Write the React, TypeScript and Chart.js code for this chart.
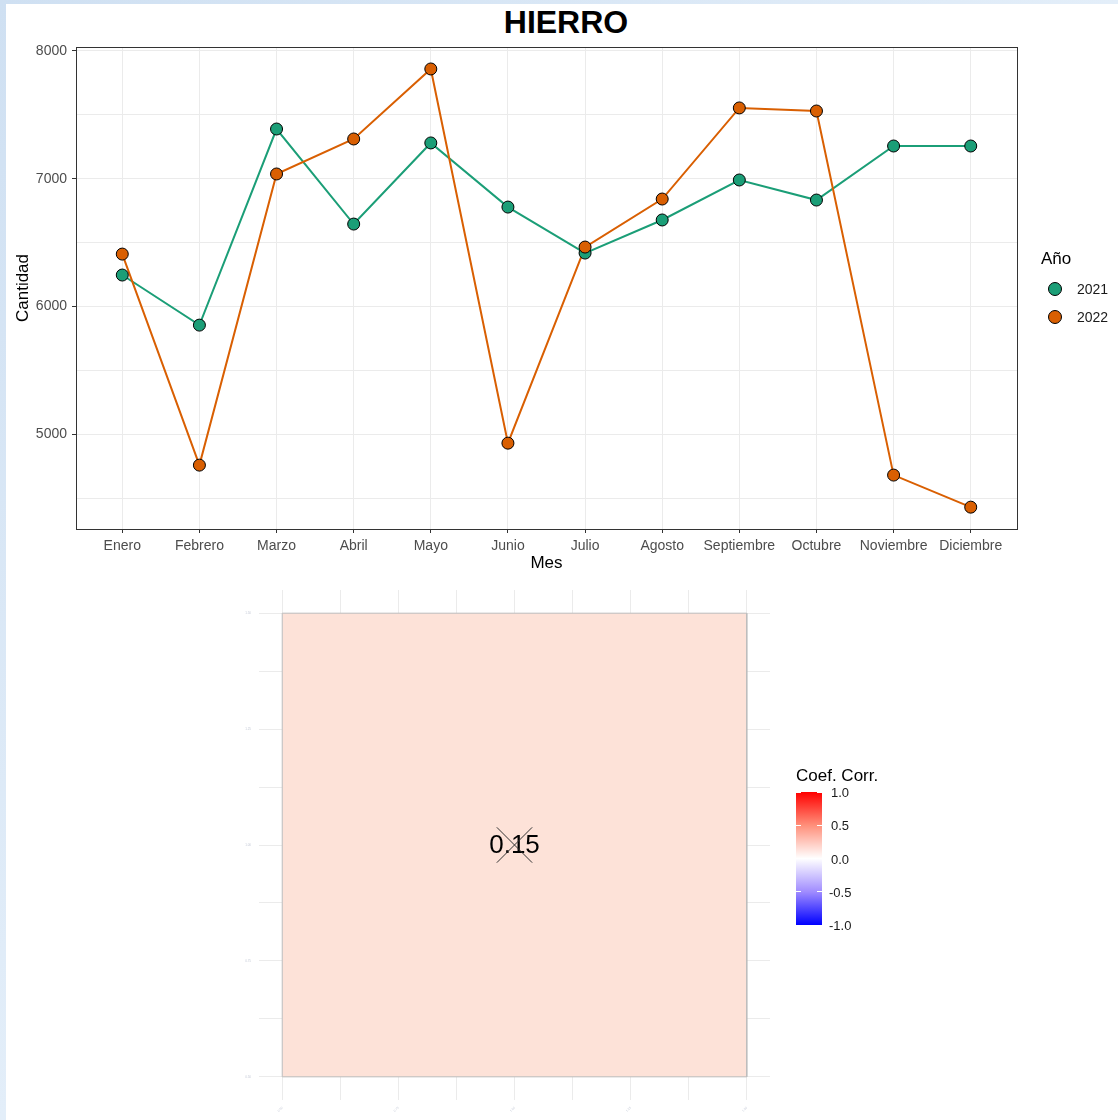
import React, { useEffect, useRef } from 'react';
import { Chart, registerables } from 'chart.js';

Chart.register(...registerables);

// ---------- data ----------
const months = ['Enero', 'Febrero', 'Marzo', 'Abril', 'Mayo', 'Junio', 'Julio', 'Agosto', 'Septiembre', 'Octubre', 'Noviembre', 'Diciembre'];
const years = ['2021', '2022'];
const values2021 = [6246, 5854, 7389, 6645, 7280, 6778, 6418, 6677, 6990, 6833, 7256, 7256];
const values2022 = [6410, 4758, 7037, 7311, 7859, 4930, 6465, 6841, 7554, 7530, 4680, 4429];
const yAxisMin = 4258;
const yAxisMax = 8031;
const yGridValues = [4500, 5000, 5500, 6000, 6500, 7000, 7500, 8000];
const yMajorTicks = [5000, 6000, 7000, 8000];

const corrValue = 0.15;
const tileX = 1;
const tileY = 1;
const tileSize = 1;
const heatAxisMin = 0.45;
const heatAxisMax = 1.55;
const heatGridValues = [0.5, 0.625, 0.75, 0.875, 1.0, 1.125, 1.25, 1.375, 1.5];
const heatTickLabels = [0.5, 0.75, 1.0, 1.25, 1.5];
const colorbarTicks = [1.0, 0.5, 0.0, -0.5, -1.0];

// ---------- styles ----------
const GREEN = '#1B9E77';
const ORANGE = '#D95F02';
const FONT = "'Liberation Sans', Arial, Helvetica, sans-serif";
const TILE_COLOR = 'rgb(253,226,216)';

Chart.defaults.font.family = FONT;

const zeroPad = (s: any) => {
  s.paddingTop = 0;
  s.paddingBottom = 0;
  s.paddingLeft = 0;
  s.paddingRight = 0;
};

export default function App() {
  const topRef = useRef<HTMLCanvasElement | null>(null);
  const botRef = useRef<HTMLCanvasElement | null>(null);

  useEffect(() => {
    const pts = (arr: number[]) => arr.map((v, i) => ({ x: i, y: v }));
    const pointDs = (label: string, arr: number[], color: string, order: number) => ({
      label,
      data: pts(arr),
      showLine: false,
      pointRadius: 6,
      pointHoverRadius: 6,
      pointBackgroundColor: color,
      pointBorderColor: '#000',
      pointBorderWidth: 1,
      borderColor: color,
      backgroundColor: color,
      order,
    });
    const lineDs = (label: string, arr: number[], color: string, order: number) => ({
      label,
      data: pts(arr),
      borderColor: color,
      borderWidth: 2,
      pointRadius: 0,
      pointHoverRadius: 0,
      tension: 0,
      fill: false,
      order,
    });

    const top = new Chart(topRef.current!, {
      type: 'line',
      data: {
        datasets: [
          pointDs(years[1], values2022, ORANGE, 0),
          pointDs(years[0], values2021, GREEN, 1),
          lineDs(years[1] + ' línea', values2022, ORANGE, 2),
          lineDs(years[0] + ' línea', values2021, GREEN, 3),
        ],
      },
      options: {
        animation: false,
        responsive: false,
        devicePixelRatio: 1,
        events: [],
        layout: { autoPadding: false, padding: { left: 6, top: 47, right: 101, bottom: 0 } },
        plugins: { legend: { display: false }, tooltip: { enabled: false }, title: { display: false } },
        scales: {
          x: {
            type: 'linear',
            position: 'bottom',
            min: -0.6,
            max: months.length - 1 + 0.6,
            afterBuildTicks: (s: any) => { s.ticks = months.map((_, i) => ({ value: i })); },
            ticks: {
              autoSkip: false,
              maxRotation: 0,
              minRotation: 0,
              padding: 5,
              color: '#4d4d4d',
              font: { size: 14 },
              callback: (v: any) => months[v] ?? '',
            },
            grid: { color: '#ebebeb', lineWidth: 1, tickColor: '#333', tickLength: 4 },
            border: { color: '#333', width: 1 },
            title: { display: true, text: 'Mes', color: '#000', font: { size: 17 }, padding: { top: 0, bottom: 11 } },
            afterFit: (s: any) => { s.height = 56; },
          },
          x2: {
            type: 'linear',
            position: 'top',
            ticks: { display: false },
            grid: { display: false, drawTicks: false },
            border: { color: '#333', width: 1 },
            afterFit: (s: any) => { s.height = 0; },
          },
          y: {
            type: 'linear',
            position: 'left',
            min: yAxisMin,
            max: yAxisMax,
            afterBuildTicks: (s: any) => { s.ticks = yGridValues.map((v) => ({ value: v })); },
            ticks: {
              autoSkip: false,
              padding: 5,
              color: '#4d4d4d',
              font: { size: 14 },
              callback: (v: any) => (yMajorTicks.includes(v) ? String(v) : ''),
            },
            grid: {
              color: '#ebebeb',
              lineWidth: 1,
              tickLength: 4,
              tickColor: (ctx: any) => (ctx.tick && yMajorTicks.includes(ctx.tick.value) ? '#333' : 'rgba(0,0,0,0)'),
            },
            border: { color: '#333', width: 1 },
            title: { display: true, text: 'Cantidad', color: '#000', font: { size: 17 }, padding: { top: 7, bottom: 0 } },
            afterFit: (s: any) => { s.width = 70; },
          },
          y2: {
            type: 'linear',
            position: 'right',
            ticks: { display: false },
            grid: { display: false, drawTicks: false },
            border: { color: '#333', width: 1 },
            afterFit: (s: any) => { s.width = 0; },
          },
        },
      } as any,
    });

    const half = tileSize / 2;
    const x0 = tileX - half, x1 = tileX + half, y0 = tileY - half, y1 = tileY + half;

    const corrTextPlugin = {
      id: 'corrText',
      beforeDatasetDraw(chart: any, args: any) {
        if (args.index !== 2) return;
        const ctx = chart.ctx;
        ctx.save();
        ctx.font = `26px ${FONT}`;
        ctx.fillStyle = '#000';
        ctx.textAlign = 'center';
        ctx.textBaseline = 'middle';
        ctx.fillText(corrValue.toFixed(2), chart.scales.x.getPixelForValue(tileX), chart.scales.y.getPixelForValue(tileY) + 1);
        ctx.restore();
      },
    };

    const heatTick = (v: any) => {
      const hit = heatTickLabels.find((t) => Math.abs(t - v) < 1e-9);
      return hit !== undefined ? hit.toFixed(2) : '';
    };

    const bot = new Chart(botRef.current!, {
      type: 'line',
      data: {
        datasets: [
          {
            label: 'tile',
            data: [{ x: x0, y: y1 }, { x: x1, y: y1 }],
            fill: { value: y0 },
            backgroundColor: TILE_COLOR,
            borderWidth: 0,
            pointRadius: 0,
            order: 2,
          },
          {
            label: 'outline',
            data: [{ x: x0, y: y0 }, { x: x0, y: y1 }, { x: x1, y: y1 }, { x: x1, y: y0 }, { x: x0, y: y0 }],
            fill: false,
            borderColor: '#bdbdbd',
            borderWidth: 1,
            pointRadius: 0,
            order: 1,
          },
          {
            label: 'cross',
            data: [{ x: tileX, y: tileY }],
            showLine: false,
            pointStyle: 'crossRot',
            pointRadius: 25,
            pointBorderColor: '#333',
            pointBorderWidth: 1,
            order: 0,
          },
        ],
      },
      options: {
        animation: false,
        responsive: false,
        devicePixelRatio: 1,
        events: [],
        layout: { autoPadding: false, padding: { left: 0, top: 5, right: 30, bottom: 0 } },
        plugins: { legend: { display: false }, tooltip: { enabled: false } },
        scales: {
          x: {
            type: 'linear',
            min: heatAxisMin,
            max: heatAxisMax,
            afterBuildTicks: (s: any) => { s.ticks = heatGridValues.map((v) => ({ value: v })); },
            ticks: {
              autoSkip: false,
              maxRotation: 45,
              minRotation: 45,
              padding: 6,
              color: '#c4c9d6',
              font: { size: 3 },
              callback: heatTick,
            },
            grid: { color: '#ebebeb', lineWidth: 1, drawTicks: false },
            border: { display: false },
            afterFit: (s: any) => { s.height = 20; zeroPad(s); },
          },
          y: {
            type: 'linear',
            min: heatAxisMin,
            max: heatAxisMax,
            afterBuildTicks: (s: any) => { s.ticks = heatGridValues.map((v) => ({ value: v })); },
            ticks: {
              autoSkip: false,
              padding: 8,
              color: '#c4c9d6',
              font: { size: 3 },
              callback: heatTick,
            },
            grid: { color: '#ebebeb', lineWidth: 1, drawTicks: false },
            border: { display: false },
            afterFit: (s: any) => { s.width = 259; zeroPad(s); },
          },
        },
      } as any,
      plugins: [corrTextPlugin],
    });

    return () => {
      top.destroy();
      bot.destroy();
    };
  }, []);

  const text = (t: string, left: number, cy: number, size: number, extra: any = {}) => (
    <div
      key={t + left + cy}
      style={{
        position: 'absolute',
        left,
        top: cy - size,
        height: size * 2,
        lineHeight: `${size * 2}px`,
        fontSize: size,
        fontFamily: FONT,
        whiteSpace: 'nowrap',
        ...extra,
      }}
    >
      {t}
    </div>
  );

  const legendColors = [GREEN, ORANGE];
  const cbTop = 792;
  const cbH = 133;

  return (
    <div
      style={{
        position: 'fixed',
        left: 0,
        top: 0,
        width: 1118,
        height: 1120,
        overflow: 'hidden',
        background: 'linear-gradient(135deg, #cfe0f2 0%, #e3eef9 50%, #d2e3f4 100%)',
      }}
    >
      <div style={{ position: 'absolute', left: 6, top: 4, right: 0, bottom: 0, background: '#fff' }} />
      <div
        style={{
          position: 'absolute',
          left: 6,
          width: 1120,
          top: 2,
          height: 40,
          lineHeight: '40px',
          textAlign: 'center',
          fontFamily: FONT,
          fontWeight: 'bold',
          fontSize: 32,
          color: '#000',
        }}
      >
        HIERRO
      </div>
      <canvas ref={topRef} width={1118} height={585} style={{ position: 'absolute', left: 0, top: 0 }} />
      <canvas ref={botRef} width={800} height={535} style={{ position: 'absolute', left: 0, top: 585 }} />

      {/* top legend */}
      {text('Año', 1041, 259, 17, { color: '#000' })}
      {years.map((y, i) => (
        <React.Fragment key={y}>
          <div
            style={{
              position: 'absolute',
              left: 1055 - 7,
              top: 289 + i * 28 - 7,
              width: 12,
              height: 12,
              borderRadius: '50%',
              border: '1px solid #000',
              background: legendColors[i],
            }}
          />
          {text(y, 1077, 289 + i * 28, 14, { color: '#1a1a1a' })}
        </React.Fragment>
      ))}

      {/* colorbar legend */}
      {text('Coef. Corr.', 796, 776, 17, { color: '#000' })}
      <div
        style={{
          position: 'absolute',
          left: 796,
          top: cbTop,
          width: 26,
          height: cbH,
          background: 'linear-gradient(to bottom, #ff0000 0%, #ff8f7a 25%, #ffffff 50%, #a08cff 75%, #0000ff 100%)',
        }}
      />
      {colorbarTicks.map((v) => {
        const cy = cbTop + ((1 - v) / 2) * cbH;
        return (
          <React.Fragment key={'cb' + v}>
            <div style={{ position: 'absolute', left: 796, top: cy - 0.5, width: 5, height: 1, background: '#fff' }} />
            <div style={{ position: 'absolute', left: 817, top: cy - 0.5, width: 5, height: 1, background: '#fff' }} />
            {text(v.toFixed(1), v < 0 ? 829 : 831, cy + 1, 13, { color: '#1a1a1a' })}
          </React.Fragment>
        );
      })}
    </div>
  );
}
